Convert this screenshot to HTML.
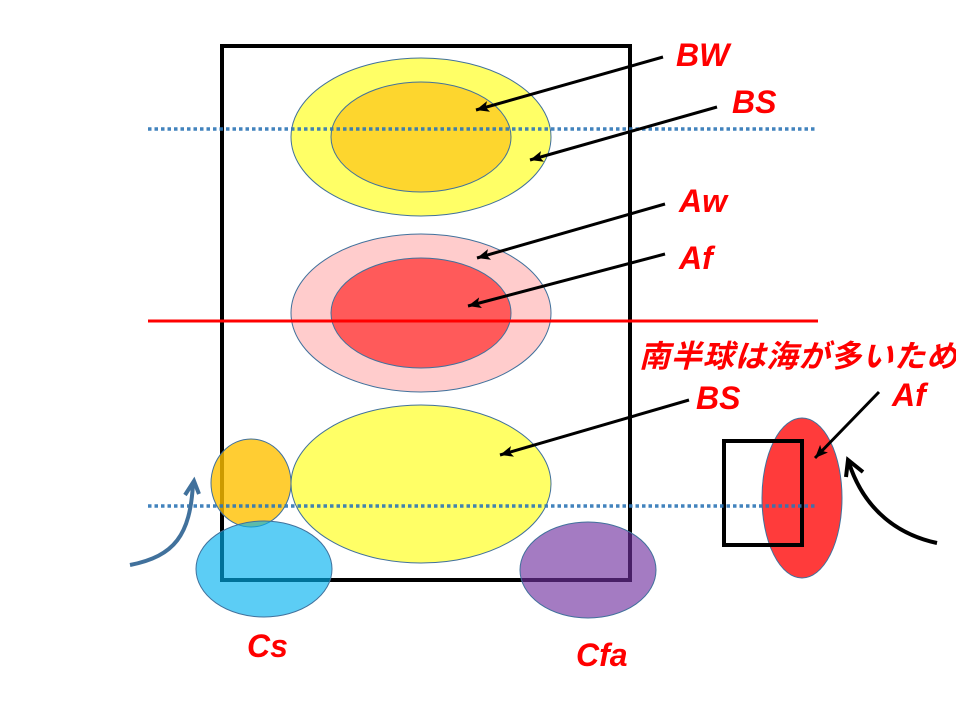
<!DOCTYPE html>
<html>
<head>
<meta charset="utf-8">
<style>
  html,body{margin:0;padding:0;background:#fff;}
  svg{display:block;}
  .lbl{font-family:"Liberation Sans","Noto Sans CJK JP",sans-serif;font-weight:bold;font-style:italic;fill:#FF0000;}
</style>
</head>
<body>
<svg width="956" height="714" viewBox="0 0 956 714" xmlns="http://www.w3.org/2000/svg">
  <defs>
    <marker id="ah" markerUnits="userSpaceOnUse" markerWidth="16" markerHeight="14" refX="13" refY="7" orient="auto">
      <path d="M0,1.5 L13,7 L0,12.5 L3,7 Z" fill="#000"/>
    </marker>
  </defs>
  <rect x="0" y="0" width="956" height="714" fill="#fff"/>

  <!-- main rectangle -->
  <rect x="222" y="46" width="408" height="534" fill="none" stroke="#000" stroke-width="4"/>

  <!-- top ellipses -->
  <ellipse cx="421" cy="137" rx="130" ry="79" fill="#FFFF66" stroke="#41719C" stroke-width="1"/>
  <ellipse cx="421" cy="137" rx="90" ry="55" fill="#FDD62E" stroke="#41719C" stroke-width="1"/>

  <!-- middle ellipses -->
  <ellipse cx="421" cy="313" rx="130" ry="79" fill="#FFCCCC" stroke="#41719C" stroke-width="1"/>
  <ellipse cx="421" cy="313" rx="90" ry="55" fill="#FF5A5A" stroke="#41719C" stroke-width="1"/>

  <!-- bottom yellow -->
  <ellipse cx="421" cy="484" rx="130" ry="79" fill="#FFFF66" stroke="#41719C" stroke-width="1"/>

  <!-- orange circle -->
  <ellipse cx="251" cy="483" rx="40" ry="44" fill="#FFC000" fill-opacity="0.8" stroke="#41719C" stroke-width="1"/>
  <!-- Cs blue -->
  <ellipse cx="264" cy="569" rx="68" ry="48" fill="#00B0F0" fill-opacity="0.64" stroke="#41719C" stroke-width="1"/>
  <!-- Cfa purple -->
  <ellipse cx="588" cy="570" rx="68" ry="48" fill="#7030A0" fill-opacity="0.64" stroke="#41719C" stroke-width="1"/>

  <!-- right red ellipse and rect -->
  <ellipse cx="802" cy="498" rx="40" ry="80" fill="#FF3B3B" stroke="#41719C" stroke-width="1"/>
  <rect x="724" y="441" width="78" height="104" fill="none" stroke="#000" stroke-width="4"/>

  <!-- lines -->
  <line x1="148" y1="129" x2="816" y2="129" stroke="#2E75B6" stroke-width="3.4" stroke-dasharray="3.5 3" stroke-opacity="0.9"/>
  <line x1="148" y1="506" x2="816" y2="506" stroke="#2E75B6" stroke-width="3.4" stroke-dasharray="3.5 3" stroke-opacity="0.9"/>
  <line x1="148" y1="321" x2="818" y2="321" stroke="#FF0000" stroke-width="3"/>

  <!-- arrows -->
  <g stroke="#000" stroke-width="3" fill="none">
    <line x1="663" y1="57" x2="476" y2="110" marker-end="url(#ah)"/>
    <line x1="717" y1="107" x2="530" y2="160" marker-end="url(#ah)"/>
    <line x1="665" y1="204" x2="477" y2="258" marker-end="url(#ah)"/>
    <line x1="665" y1="254" x2="468" y2="306" marker-end="url(#ah)"/>
    <line x1="689" y1="400" x2="500" y2="455" marker-end="url(#ah)"/>
    <line x1="879" y1="392" x2="815" y2="458" marker-end="url(#ah)"/>
  </g>

  <!-- curved arrows -->
  <path d="M937,543 C900,535 865,512 849,463" fill="none" stroke="#000" stroke-width="4"/>
  <path d="M846,477 L848,460 L863,472" fill="none" stroke="#000" stroke-width="4"/>

  <path d="M130,565 C175,556 190,535 193,484" fill="none" stroke="#41719C" stroke-width="4"/>
  <path d="M185,495 L194,481 L199,494" fill="none" stroke="#41719C" stroke-width="4"/>

  <!-- labels -->
  <text class="lbl" x="676" y="66" font-size="32">BW</text>
  <text class="lbl" x="732" y="113" font-size="32">BS</text>
  <text class="lbl" x="679" y="212" font-size="32">Aw</text>
  <text class="lbl" x="679" y="269" font-size="32">Af</text>
  <text class="lbl" x="639" y="367" font-size="31" textLength="318" lengthAdjust="spacing">南半球は海が多いため</text>
  <text class="lbl" x="696" y="409" font-size="32">BS</text>
  <text class="lbl" x="892" y="406" font-size="32">Af</text>
  <text class="lbl" x="247" y="657" font-size="32">Cs</text>
  <text class="lbl" x="576" y="666" font-size="32">Cfa</text>
</svg>
</body>
</html>
